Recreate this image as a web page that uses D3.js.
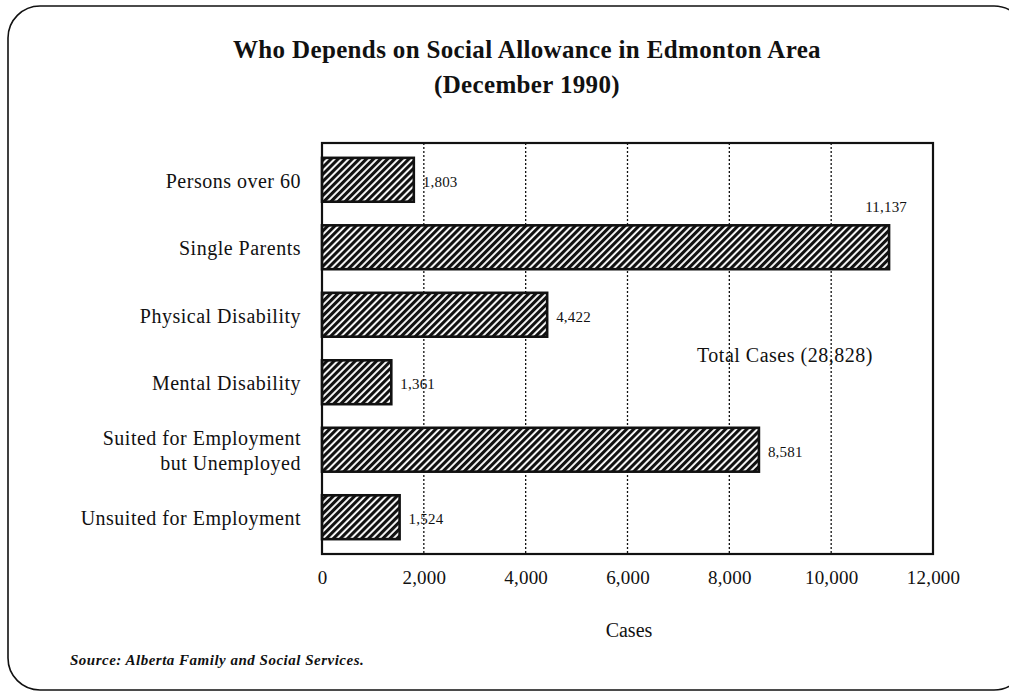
<!DOCTYPE html>
<html>
<head>
<meta charset="utf-8">
<script src="https://cdn.jsdelivr.net/npm/d3@7"></script>
<style>
  html, body { margin: 0; padding: 0; background: #fff; }
  svg { display: block; }
  text { font-family: "Liberation Serif", "Times New Roman", serif; fill: #111; }
</style>
</head>
<body>
<svg id="chart" width="1009" height="693"></svg>
<script>
// Social allowance caseload by category, December 1990
const categories = [
  "Persons over 60",
  "Single Parents",
  "Physical Disability",
  "Mental Disability",
  "Suited for Employment|but Unemployed",
  "Unsuited for Employment"
];
const cases = [1803, 11137, 4422, 1361, 8581, 1524];
const caseLabels = ["1,803", "11,137", "4,422", "1,361", "8,581", "1,524"];
const xTicks = [0, 2000, 4000, 6000, 8000, 10000, 12000];
const titleLines = ["Who Depends on Social Allowance in Edmonton Area", "(December 1990)"];
const totalNote = "Total Cases (28,828)";
const sourceNote = "Source: Alberta Family and Social Services.";

const svg = d3.select("#chart");
const plot = { left: 322, top: 143, right: 933, bottom: 554 };

// outer rounded frame
svg.append("rect")
  .attr("x", 8).attr("y", 6)
  .attr("width", 1018).attr("height", 684)
  .attr("rx", 32).attr("ry", 32)
  .attr("fill", "none").attr("stroke", "#111").attr("stroke-width", 1.6);

// diagonal hatch fill
const defs = svg.append("defs");
const pat = defs.append("pattern")
  .attr("id", "hatch")
  .attr("patternUnits", "userSpaceOnUse")
  .attr("width", 5).attr("height", 5)
  .attr("patternTransform", "rotate(45)");
pat.append("rect").attr("width", 5).attr("height", 5).attr("fill", "#fff");
pat.append("rect").attr("x", 0).attr("y", 0).attr("width", 3.1).attr("height", 5).attr("fill", "#111");

const x = d3.scaleLinear().domain([0, 12000]).range([plot.left, plot.right]);
const y = d3.scaleBand().domain(d3.range(categories.length))
  .range([plot.top, plot.bottom]).paddingInner(0.35).paddingOuter(0.22);

// title
svg.append("g").selectAll("text").data(titleLines).join("text")
  .attr("x", 527).attr("y", (d, i) => 58 + i * 35)
  .attr("text-anchor", "middle")
  .style("font-size", "25px").style("font-weight", "bold")
  .style("letter-spacing", "0.35px")
  .text(d => d);

// dotted vertical gridlines
svg.append("g").selectAll("line").data(xTicks.slice(1, -1)).join("line")
  .attr("x1", d => x(d)).attr("x2", d => x(d))
  .attr("y1", plot.top).attr("y2", plot.bottom)
  .attr("stroke", "#111").attr("stroke-width", 1.3)
  .attr("stroke-dasharray", "2,2");

// bars
svg.append("g").selectAll("rect").data(cases).join("rect")
  .attr("x", x(0))
  .attr("y", (d, i) => y(i))
  .attr("width", d => x(d) - x(0))
  .attr("height", y.bandwidth())
  .attr("fill", "url(#hatch)")
  .attr("stroke", "#111").attr("stroke-width", 2.6);

// plot frame
svg.append("rect")
  .attr("x", plot.left).attr("y", plot.top)
  .attr("width", plot.right - plot.left).attr("height", plot.bottom - plot.top)
  .attr("fill", "none").attr("stroke", "#111").attr("stroke-width", 2.2);

// value labels
svg.append("g").selectAll("text").data(cases).join("text")
  .attr("x", (d, i) => i === 1 ? x(d) + 18 : x(d) + 9)
  .attr("y", (d, i) => i === 1 ? y(i) - 13 : y(i) + y.bandwidth() / 2 + 7)
  .attr("text-anchor", (d, i) => i === 1 ? "end" : "start")
  .style("font-size", "15px").style("letter-spacing", "0.2px")
  .text((d, i) => caseLabels[i]);

// category labels
const catG = svg.append("g");
categories.forEach((c, i) => {
  const lines = c.split("|");
  const cy = y(i) + y.bandwidth() / 2;
  lines.forEach((ln, j) => {
    catG.append("text")
      .attr("x", 301)
      .attr("y", cy + 8 + (j - (lines.length - 1) / 2) * 25)
      .attr("text-anchor", "end")
      .style("font-size", "20px").style("letter-spacing", "0.5px")
      .text(ln);
  });
});

// x axis tick labels
const axis = d3.axisBottom(x).tickValues(xTicks).tickSize(0).tickPadding(17)
  .tickFormat(d3.format(","));
const ax = svg.append("g").attr("transform", `translate(0,${plot.bottom})`).call(axis);
ax.select(".domain").remove();
ax.selectAll("text")
  .style("font-size", "19px").style("letter-spacing", "0.2px")
  .style("font-family", "Liberation Serif, serif").attr("fill", "#111");

// axis title
svg.append("text").attr("x", 629).attr("y", 637).attr("text-anchor", "middle")
  .style("font-size", "20px").text("Cases");

// total annotation
svg.append("text").attr("x", 697).attr("y", 362)
  .style("font-size", "20px").style("letter-spacing", "0.5px").text(totalNote);

// source
svg.append("text").attr("x", 70).attr("y", 665)
  .style("font-size", "15px").style("font-style", "italic").style("font-weight", "bold")
  .style("letter-spacing", "0.5px")
  .text(sourceNote);
</script>
</body>
</html>
